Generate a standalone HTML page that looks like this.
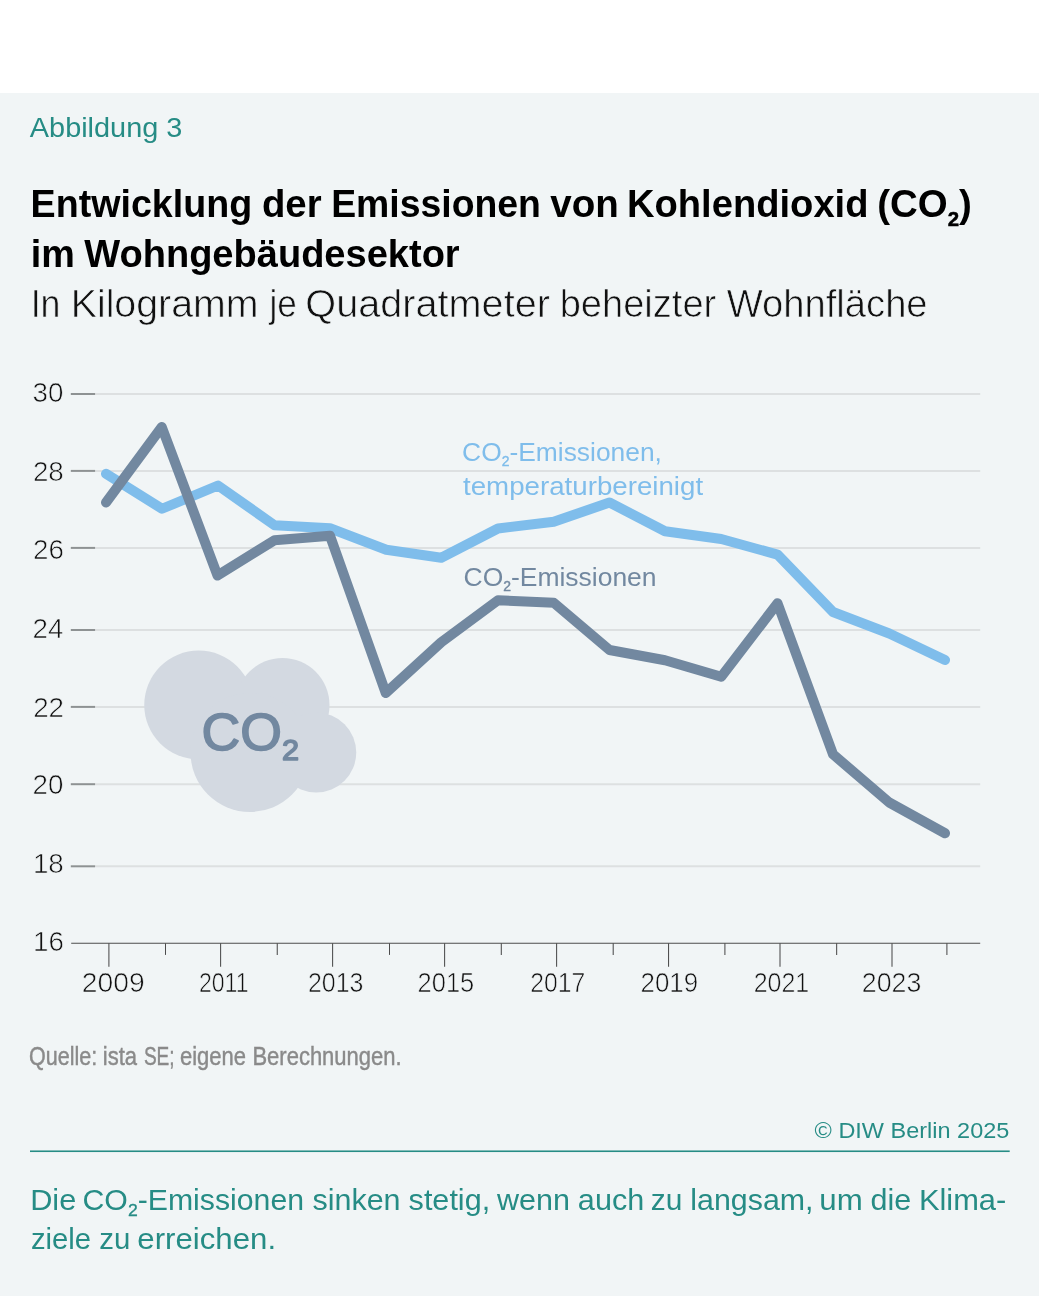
<!DOCTYPE html>
<html lang="de">
<head>
<meta charset="utf-8">
<title>Abbildung 3 – CO2-Emissionen im Wohngebäudesektor</title>
<style>
html,body{margin:0;padding:0;background:#fff;}
body{width:1039px;height:1296px;overflow:hidden;position:relative;font-family:"Liberation Sans",sans-serif;}
.figure{position:absolute;left:0;top:93px;width:1039px;height:1203px;background:#f1f5f6;}
svg{position:absolute;left:0;top:0;display:block;}
svg text{font-family:"Liberation Sans",sans-serif;white-space:pre;}
</style>
</head>
<body>
<div class="figure"></div>
<svg width="1039" height="1296" viewBox="0 0 1039 1296">
<g id="grid" fill="none" stroke-width="2">
<line x1="95.1" x2="980.2" y1="394.0" y2="394.0" stroke="#dde0e1"/>
<line x1="70.8" x2="95.1" y1="394.0" y2="394.0" stroke="#8e9293"/>
<line x1="95.1" x2="980.2" y1="470.9" y2="470.9" stroke="#dde0e1"/>
<line x1="70.8" x2="95.1" y1="470.9" y2="470.9" stroke="#8e9293"/>
<line x1="95.1" x2="980.2" y1="547.9" y2="547.9" stroke="#dde0e1"/>
<line x1="70.8" x2="95.1" y1="547.9" y2="547.9" stroke="#8e9293"/>
<line x1="95.1" x2="980.2" y1="630.0" y2="630.0" stroke="#dde0e1"/>
<line x1="70.8" x2="95.1" y1="630.0" y2="630.0" stroke="#8e9293"/>
<line x1="95.1" x2="980.2" y1="706.9" y2="706.9" stroke="#dde0e1"/>
<line x1="70.8" x2="95.1" y1="706.9" y2="706.9" stroke="#8e9293"/>
<line x1="95.1" x2="980.2" y1="784.2" y2="784.2" stroke="#dde0e1"/>
<line x1="70.8" x2="95.1" y1="784.2" y2="784.2" stroke="#8e9293"/>
<line x1="95.1" x2="980.2" y1="866.3" y2="866.3" stroke="#dde0e1"/>
<line x1="70.8" x2="95.1" y1="866.3" y2="866.3" stroke="#8e9293"/>
</g>
<g id="cloud" fill="#d3d9e1"><circle cx="198.75" cy="705" r="54.5"/><circle cx="282.5" cy="705" r="47"/><circle cx="250" cy="752.5" r="59.5"/><circle cx="316.25" cy="752.5" r="40"/></g>
<g id="axis" stroke="#4c4c4c" stroke-width="1.05" fill="none">
<line x1="71.2" x2="980.2" y1="943.3" y2="943.3"/>
<line x1="108.90" x2="108.90" y1="943.3" y2="966.7"/>
<line x1="165.50" x2="165.50" y1="943.3" y2="954.9"/>
<line x1="220.60" x2="220.60" y1="943.3" y2="966.7"/>
<line x1="277.25" x2="277.25" y1="943.3" y2="954.9"/>
<line x1="332.60" x2="332.60" y1="943.3" y2="966.7"/>
<line x1="389.50" x2="389.50" y1="943.3" y2="954.9"/>
<line x1="444.60" x2="444.60" y1="943.3" y2="966.7"/>
<line x1="501.30" x2="501.30" y1="943.3" y2="954.9"/>
<line x1="556.60" x2="556.60" y1="943.3" y2="966.7"/>
<line x1="613.20" x2="613.20" y1="943.3" y2="954.9"/>
<line x1="668.55" x2="668.55" y1="943.3" y2="966.7"/>
<line x1="724.90" x2="724.90" y1="943.3" y2="954.9"/>
<line x1="780.00" x2="780.00" y1="943.3" y2="966.7"/>
<line x1="836.65" x2="836.65" y1="943.3" y2="954.9"/>
<line x1="892.00" x2="892.00" y1="943.3" y2="966.7"/>
<line x1="946.90" x2="946.90" y1="943.3" y2="954.9"/>
</g>
<polyline points="106,473.8 162,508.75 218,485.5 274.5,525.25 330,528.25 386.25,549.75 441.25,557.75 498,528.5 553.75,521.75 609.5,502.5 665,531.25 721.25,539 777.5,554.6 833,612 889.25,633.5 945,660" fill="none" stroke="#7fbdeb" stroke-width="10" stroke-linecap="round" stroke-linejoin="round"/>
<polyline points="106,502.5 161.75,427 217.5,575.6 274.5,540.25 330,535.75 385.75,693.0 441.25,642.2 498,600.25 553.75,602.75 609.5,650 665,660.25 721.25,676.75 777.5,603.25 833,754.3 889.25,802.5 945,833.25" fill="none" stroke="#7288a0" stroke-width="10" stroke-linecap="round" stroke-linejoin="round"/>
<rect x="30" y="1150.45" width="979.7" height="1.6" fill="#268c85"/>
<text id="fig" transform="translate(29.81 137.00) scale(1.0702 1)" font-size="27" font-weight="normal" fill="#268c85" >Abbildung 3</text>
<text id="la1" transform="translate(462.10 460.60) scale(0.9960 1)" font-size="26.5" font-weight="normal" fill="#7fbdeb" >CO<tspan font-size="14" dy="5.3" stroke="#7fbdeb" stroke-width="0.4">2</tspan><tspan dy="-5.3">-Emissionen,</tspan></text>
<text id="la2" transform="translate(462.99 494.50) scale(1.0454 1)" font-size="26.5" font-weight="normal" fill="#7fbdeb" >temperaturbereinigt</text>
<text id="lb1" transform="translate(463.54 585.90) scale(0.9953 1)" font-size="26.6" font-weight="normal" fill="#7288a0" >CO<tspan font-size="14" dy="5.3" stroke="#7288a0" stroke-width="0.4">2</tspan><tspan dy="-5.3">-Emissionen</tspan></text>
<text id="cr" transform="translate(814.59 1137.90) scale(1.0437 1)" font-size="22.5" font-weight="normal" fill="#268c85" >© DIW Berlin 2025</text>
<text id="cloudt" transform="translate(201.59 749.80) scale(1.0211 1)" font-size="52.5" font-weight="normal" fill="#7288a0" stroke="#7288a0" stroke-width="1.6" stroke-linejoin="round">CO<tspan font-size="30" dy="10" >2</tspan></text>
<g id="t1" font-size="39" font-weight="bold" fill="#000" >
<text id="t1_0" transform="translate(30.61 217.00) scale(0.9649 1)">Entwicklung</text>
<text id="t1_1" transform="translate(261.96 217.00) scale(0.9833 1)">der</text>
<text id="t1_2" transform="translate(331.15 217.00) scale(0.9587 1)">Emissionen</text>
<text id="t1_3" transform="translate(550.32 217.00) scale(0.9882 1)">von</text>
<text id="t1_4" transform="translate(627.00 217.00) scale(0.9779 1)">Kohlendioxid</text>
<text id="t1_5" transform="translate(877.21 217.00) scale(0.9865 1)">(CO<tspan font-size="20.7" dy="8.8" stroke="#000" stroke-width="0.5">2</tspan><tspan dy="-8.8">)</tspan></text>
</g>
<g id="t2" font-size="39" font-weight="bold" fill="#000" >
<text id="t2_0" transform="translate(30.78 266.50) scale(0.9686 1)">im</text>
<text id="t2_1" transform="translate(84.23 266.50) scale(0.9753 1)">Wohngebäudesektor</text>
</g>
<g id="st" font-size="39.4" font-weight="normal" fill="#111" stroke="#f1f5f6" stroke-width="0.7">
<text id="st_0" transform="translate(30.65 316.85) scale(0.9084 1)">In</text>
<text id="st_1" transform="translate(70.67 316.85) scale(0.9981 1)">Kilogramm</text>
<text id="st_2" transform="translate(269.42 316.85) scale(0.8921 1)">je</text>
<text id="st_3" transform="translate(305.36 316.85) scale(1.0062 1)">Quadratmeter</text>
<text id="st_4" transform="translate(559.65 316.85) scale(0.9665 1)">beheizter</text>
<text id="st_5" transform="translate(726.72 316.85) scale(0.9691 1)">Wohnfläche</text>
</g>
<g id="src" font-size="26.5" font-weight="normal" fill="#8a8a8a" stroke="#8a8a8a" stroke-width="0.45">
<text id="src_0" transform="translate(29.10 1065.40) scale(0.8124 1)">Quelle:</text>
<text id="src_1" transform="translate(102.75 1065.40) scale(0.8303 1)">ista</text>
<text id="src_2" transform="translate(143.90 1065.40) scale(0.7198 1)">SE;</text>
<text id="src_3" transform="translate(179.95 1065.40) scale(0.8298 1)">eigene</text>
<text id="src_4" transform="translate(252.42 1065.40) scale(0.8306 1)">Berechnungen.</text>
</g>
<g id="c1" font-size="29.2" font-weight="normal" fill="#268c85" >
<text id="c1_0" transform="translate(30.14 1210.40) scale(1.0518 1)">Die</text>
<text id="c1_1" transform="translate(82.53 1210.40) scale(1.0361 1)">CO<tspan font-size="17" dy="6" stroke="#268c85" stroke-width="0.3">2</tspan><tspan dy="-6">-Emissionen</tspan></text>
<text id="c1_2" transform="translate(312.46 1210.40) scale(1.0440 1)">sinken</text>
<text id="c1_3" transform="translate(408.59 1210.40) scale(1.0475 1)">stetig,</text>
<text id="c1_4" transform="translate(497.02 1210.40) scale(1.0464 1)">wenn</text>
<text id="c1_5" transform="translate(577.87 1210.40) scale(1.0482 1)">auch</text>
<text id="c1_6" transform="translate(650.76 1210.40) scale(1.0254 1)">zu</text>
<text id="c1_7" transform="translate(690.35 1210.40) scale(1.0399 1)">langsam,</text>
<text id="c1_8" transform="translate(819.25 1210.40) scale(1.0712 1)">um</text>
<text id="c1_9" transform="translate(870.62 1210.40) scale(1.0448 1)">die</text>
<text id="c1_10" transform="translate(918.93 1210.40) scale(1.0564 1)">Klima-</text>
</g>
<g id="c2" font-size="29.2" font-weight="normal" fill="#268c85" >
<text id="c2_0" transform="translate(30.93 1248.50) scale(1.0033 1)">ziele</text>
<text id="c2_1" transform="translate(99.26 1248.50) scale(1.0081 1)">zu</text>
<text id="c2_2" transform="translate(137.31 1248.50) scale(1.0691 1)">erreichen.</text>
</g>
<text id="y30" transform="translate(32.60 402.40) scale(1.0000 1)" font-size="27.8" font-weight="normal" fill="#111" stroke="#f1f5f6" stroke-width="0.65">30</text>
<text id="y28" transform="translate(32.89 481.30) scale(1.0000 1)" font-size="27.8" font-weight="normal" fill="#111" stroke="#f1f5f6" stroke-width="0.65">28</text>
<text id="y26" transform="translate(32.95 559.20) scale(1.0000 1)" font-size="27.8" font-weight="normal" fill="#111" stroke="#f1f5f6" stroke-width="0.65">26</text>
<text id="y24" transform="translate(32.44 638.20) scale(1.0000 1)" font-size="27.8" font-weight="normal" fill="#111" stroke="#f1f5f6" stroke-width="0.65">24</text>
<text id="y22" transform="translate(33.15 716.50) scale(1.0000 1)" font-size="27.8" font-weight="normal" fill="#111" stroke="#f1f5f6" stroke-width="0.65">22</text>
<text id="y20" transform="translate(32.60 794.20) scale(1.0000 1)" font-size="27.8" font-weight="normal" fill="#111" stroke="#f1f5f6" stroke-width="0.65">20</text>
<text id="y18" transform="translate(32.89 873.10) scale(1.0000 1)" font-size="27.8" font-weight="normal" fill="#111" stroke="#f1f5f6" stroke-width="0.65">18</text>
<text id="y16" transform="translate(32.95 951.10) scale(1.0000 1)" font-size="27.8" font-weight="normal" fill="#111" stroke="#f1f5f6" stroke-width="0.65">16</text>
<text id="x2009" transform="translate(81.84 992.30) scale(1.0170 1)" font-size="27.8" font-weight="normal" fill="#111" stroke="#f1f5f6" stroke-width="0.65">2009</text>
<text id="x2011" transform="translate(198.91 992.30) scale(0.8311 1)" font-size="27.8" font-weight="normal" fill="#111" stroke="#f1f5f6" stroke-width="0.65">2011</text>
<text id="x2013" transform="translate(307.98 992.30) scale(0.8981 1)" font-size="27.8" font-weight="normal" fill="#111" stroke="#f1f5f6" stroke-width="0.65">2013</text>
<text id="x2015" transform="translate(417.57 992.30) scale(0.9165 1)" font-size="27.8" font-weight="normal" fill="#111" stroke="#f1f5f6" stroke-width="0.65">2015</text>
<text id="x2017" transform="translate(530.15 992.30) scale(0.8894 1)" font-size="27.8" font-weight="normal" fill="#111" stroke="#f1f5f6" stroke-width="0.65">2017</text>
<text id="x2019" transform="translate(640.52 992.30) scale(0.9334 1)" font-size="27.8" font-weight="normal" fill="#111" stroke="#f1f5f6" stroke-width="0.65">2019</text>
<text id="x2021" transform="translate(753.66 992.30) scale(0.8989 1)" font-size="27.8" font-weight="normal" fill="#111" stroke="#f1f5f6" stroke-width="0.65">2021</text>
<text id="x2023" transform="translate(861.74 992.30) scale(0.9636 1)" font-size="27.8" font-weight="normal" fill="#111" stroke="#f1f5f6" stroke-width="0.65">2023</text>
</svg>
</body>
</html>
